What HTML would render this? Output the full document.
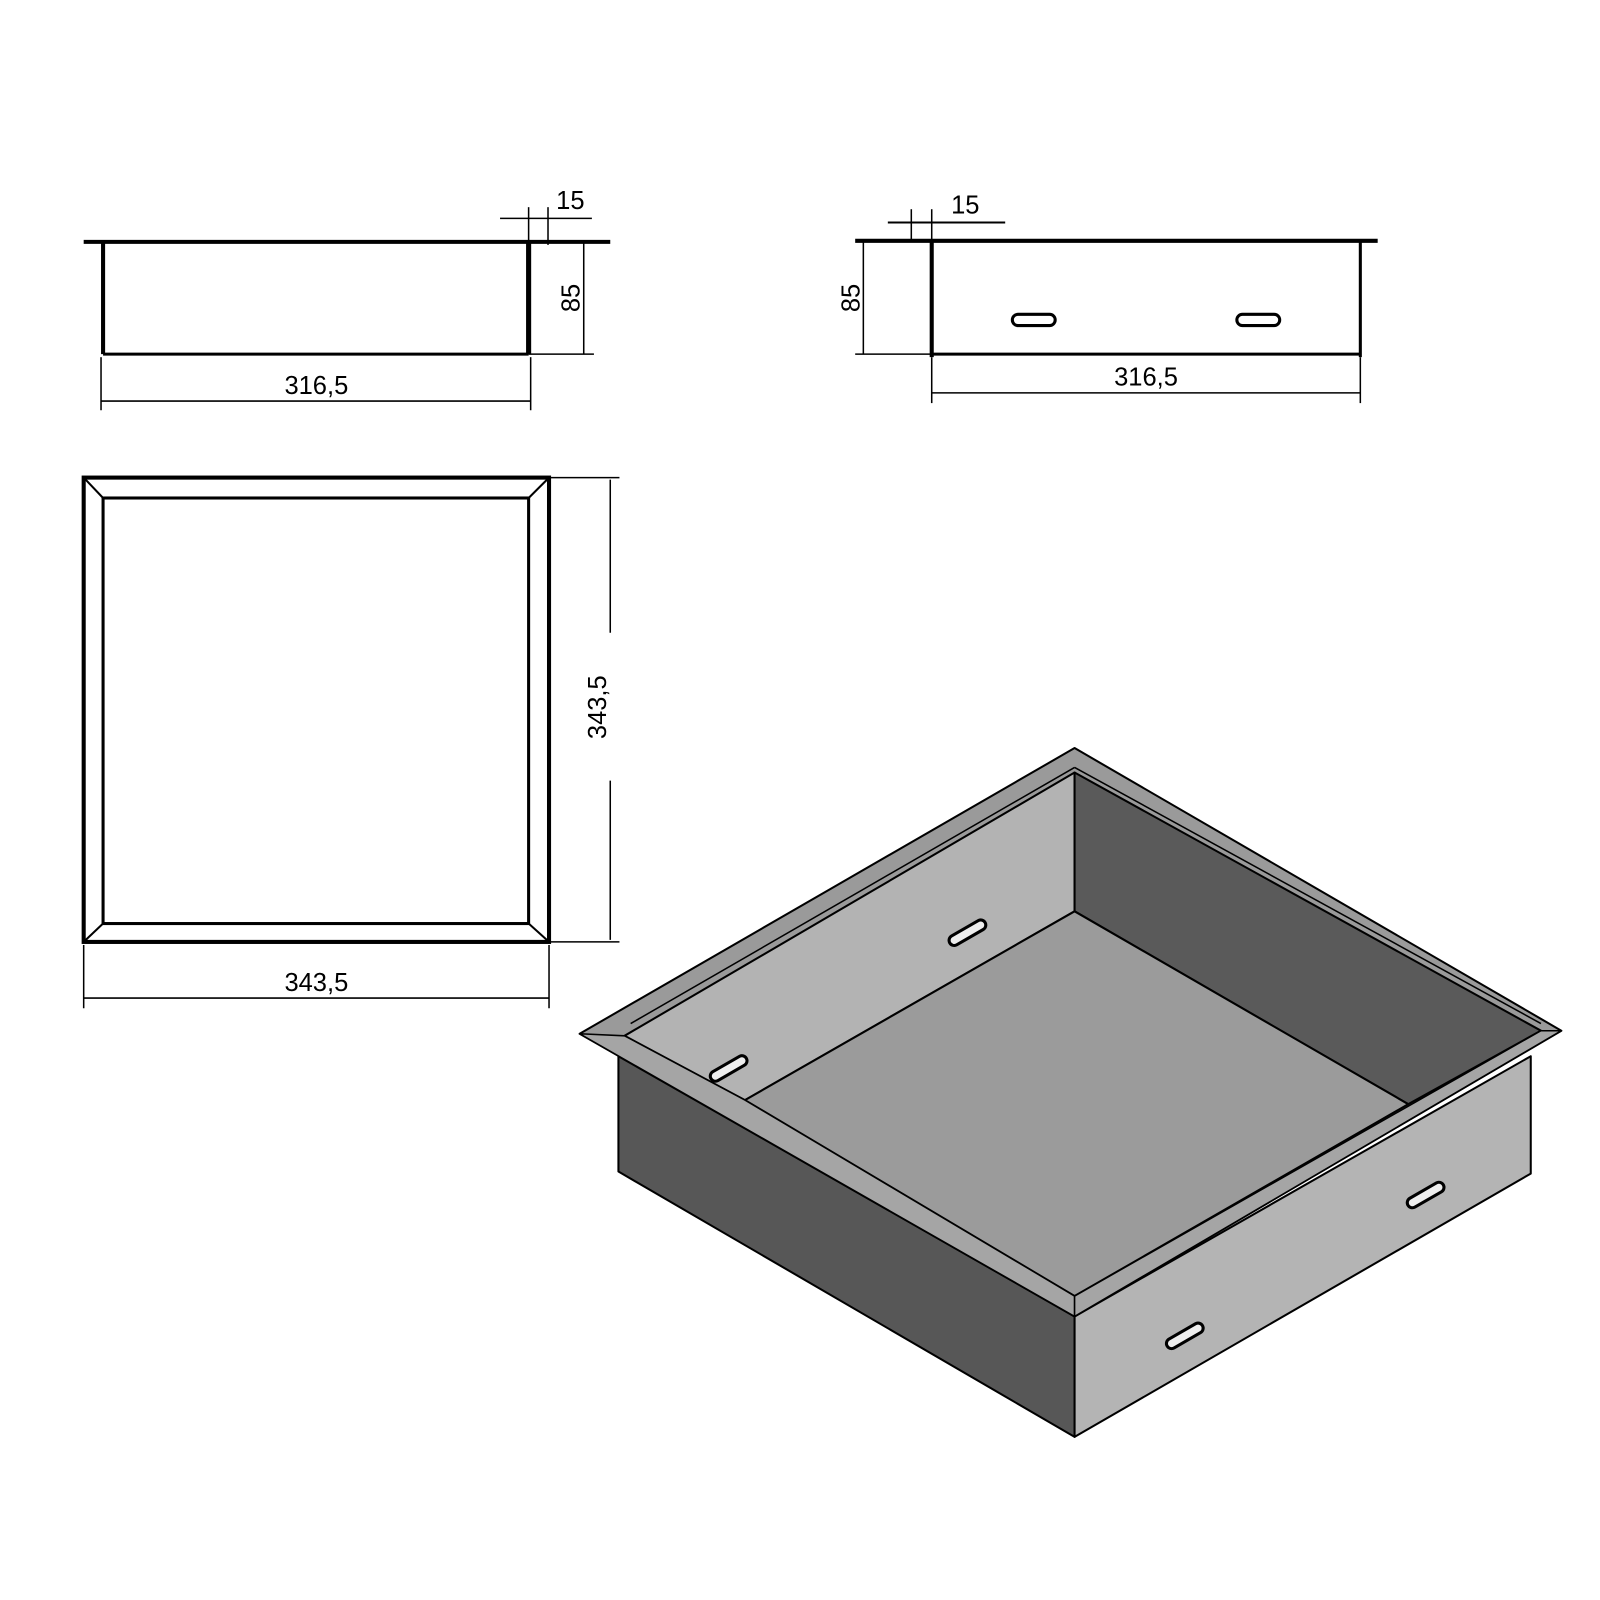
<!DOCTYPE html>
<html><head><meta charset="utf-8"><style>html,body{margin:0;padding:0;background:#fff}svg{display:block}</style></head>
<body>
<svg width="1600" height="1600" viewBox="0 0 1600 1600" xmlns="http://www.w3.org/2000/svg" font-family="Liberation Sans, sans-serif">
<g transform="scale(1.0205)">
<g stroke="#000" fill="none">
<line x1="82" y1="237" x2="598" y2="237" stroke-width="4"/>
<line x1="101" y1="237" x2="101" y2="347" stroke-width="4"/>
<line x1="518" y1="237" x2="518" y2="347" stroke-width="5"/>
<line x1="101" y1="347" x2="518" y2="347" stroke-width="3"/>
<line x1="518" y1="347" x2="582" y2="347" stroke-width="1.5"/>
<line x1="572" y1="237" x2="572" y2="347" stroke-width="1.5"/>
<line x1="99" y1="350" x2="99" y2="402" stroke-width="1.5"/>
<line x1="520" y1="350" x2="520" y2="402" stroke-width="1.5"/>
<line x1="99" y1="393" x2="520" y2="393" stroke-width="1.5"/>
<line x1="518" y1="203" x2="518" y2="237" stroke-width="1.5"/>
<line x1="537" y1="203" x2="537" y2="240" stroke-width="1.5"/>
<line x1="490" y1="214" x2="580" y2="214" stroke-width="1.5"/>
<line x1="838" y1="236" x2="1350" y2="236" stroke-width="4"/>
<line x1="913" y1="236" x2="913" y2="350" stroke-width="4"/>
<line x1="1333" y1="236" x2="1333" y2="350" stroke-width="3"/>
<line x1="913" y1="347" x2="1333" y2="347" stroke-width="3"/>
<line x1="838" y1="347" x2="913" y2="347" stroke-width="1.5"/>
<line x1="846" y1="236" x2="846" y2="347" stroke-width="1.5"/>
<line x1="913" y1="350" x2="913" y2="395" stroke-width="1.5"/>
<line x1="1333" y1="350" x2="1333" y2="395" stroke-width="1.5"/>
<line x1="913" y1="385" x2="1333" y2="385" stroke-width="1.5"/>
<line x1="893" y1="205" x2="893" y2="236" stroke-width="1.5"/>
<line x1="913" y1="205" x2="913" y2="236" stroke-width="1.5"/>
<line x1="870" y1="218" x2="985" y2="218" stroke-width="2"/>
<rect x="992" y="308" width="42" height="11" rx="5.5" stroke-width="3"/>
<rect x="1212" y="308" width="42" height="11" rx="5.5" stroke-width="3"/>
<rect x="82" y="468" width="456" height="455" stroke-width="4"/>
<rect x="101" y="488" width="417" height="417" stroke-width="3"/>
<line x1="82" y1="468" x2="101" y2="488" stroke-width="2"/>
<line x1="538" y1="468" x2="518" y2="488" stroke-width="2"/>
<line x1="82" y1="923" x2="101" y2="905" stroke-width="2"/>
<line x1="538" y1="923" x2="518" y2="905" stroke-width="2"/>
<line x1="538" y1="468" x2="607" y2="468" stroke-width="1.5"/>
<line x1="538" y1="923" x2="607" y2="923" stroke-width="1.5"/>
<line x1="598" y1="470" x2="598" y2="620" stroke-width="1.5"/>
<line x1="598" y1="765" x2="598" y2="921" stroke-width="1.5"/>
<line x1="82" y1="926" x2="82" y2="988" stroke-width="1.5"/>
<line x1="538" y1="926" x2="538" y2="988" stroke-width="1.5"/>
<line x1="82" y1="978" x2="538" y2="978" stroke-width="1.5"/>
</g>
<g font-size="25" fill="#000">
<text x="310" y="386" text-anchor="middle">316,5</text>
<text x="1123" y="378" text-anchor="middle">316,5</text>
<text x="310" y="971" text-anchor="middle">343,5</text>
<text x="545" y="205">15</text>
<text x="932" y="209">15</text>
<text transform="translate(568,292) rotate(-90)" text-anchor="middle">85</text>
<text transform="translate(842,292) rotate(-90)" text-anchor="middle">85</text>
<text transform="translate(594,693) rotate(-90)" text-anchor="middle">343,5</text>
</g>
<g stroke="#000" stroke-width="2" stroke-linejoin="round">
<polygon points="606,1035 1053,1290 1053,1408 606,1148" fill="#575757"/>
<polygon points="1053,1290 1500,1035 1500,1150 1053,1408" fill="#b4b4b4"/>
<polygon points="568,1013 1053,733 1530,1010 1053,1290" fill="#9a9a9a"/>
<polygon points="612,1015 1053,757 1053,893 730,1078" fill="#b3b3b3"/>
<polygon points="1053,757 1510,1010 1380,1082 1053,893" fill="#5a5a5a"/>
<polygon points="730,1078 1053,893 1380,1082 1053,1270" fill="#9b9b9b"/>
<polygon points="612,1015 730,1078 1053,1270 1053,1290 568,1013" fill="#a5a5a5" stroke-width="1.5"/>
<polygon points="1510,1010 1530,1010 1053,1290 1053,1270" fill="#a5a5a5" stroke-width="1.5"/>
<line x1="618" y1="1003" x2="1053" y2="752" stroke-width="1.5"/>
<line x1="1053" y1="752" x2="1510" y2="1003" stroke-width="1.5"/>
</g>
<g stroke="#000" stroke-width="3" fill="#eee">
<rect x="-20" y="-5" width="40" height="10" rx="5" transform="translate(948,914) rotate(-30)"/>
<rect x="-20" y="-5" width="40" height="10" rx="5" transform="translate(714,1047) rotate(-30)"/>
<rect x="-20" y="-5" width="40" height="10" rx="5" transform="translate(1397,1171) rotate(-30)"/>
<rect x="-20" y="-5" width="40" height="10" rx="5" transform="translate(1161,1309) rotate(-30)"/>
</g>
</g>
</svg>
</body></html>
